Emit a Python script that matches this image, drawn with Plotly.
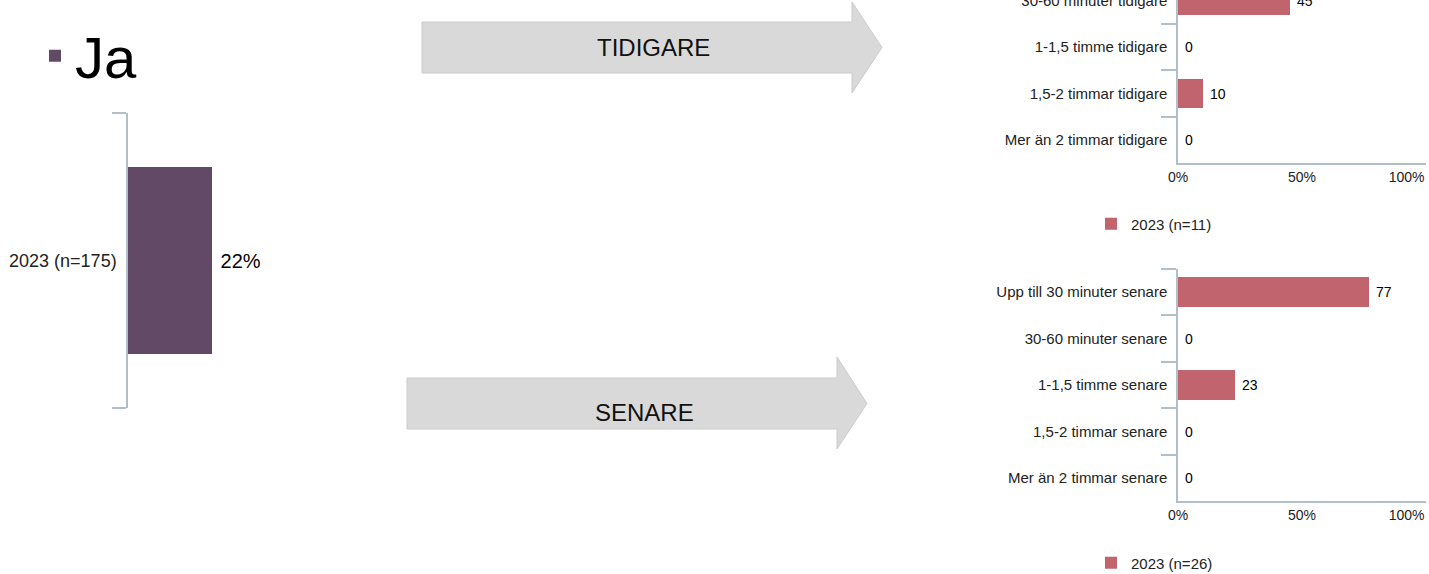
import plotly.graph_objects as go

W, H = 1429, 574

# ---- data ----
ja_category = ["2023 (n=175)"]
ja_values = [22]

tidigare_categories = [
    "Upp till 30 minuter tidigare",
    "30-60 minuter tidigare",
    "1-1,5 timme tidigare",
    "1,5-2 timmar tidigare",
    "Mer än 2 timmar tidigare",
]
tidigare_values = [45, 45, 0, 10, 0]

senare_categories = [
    "Upp till 30 minuter senare",
    "30-60 minuter senare",
    "1-1,5 timme senare",
    "1,5-2 timmar senare",
    "Mer än 2 timmar senare",
]
senare_values = [77, 0, 23, 0, 0]

x_tickvals = [0, 50, 100]
x_ticktext = ["0%", "50%", "100%"]

# ---- styles ----
FONT = "Liberation Sans, Arial, sans-serif"
PURPLE = "#624966"
RED = "#C1646E"
AXIS = "#B3BECB"
ARROW = "#D9D9D9"
NB = "\u00a0"


def px_x(p):
    return p / W


def px_y(p):
    return 1 - p / H


fig = go.Figure()

fig.add_trace(go.Bar(
    x=ja_values, y=ja_category, orientation="h", name="Ja",
    marker=dict(color=PURPLE, line=dict(width=0)), width=0.634,
    text=[f"{NB}{v}%" for v in ja_values], textposition="outside",
    textfont=dict(size=20, color="#000000", family=FONT),
    xaxis="x", yaxis="y", legend="legend", hoverinfo="skip",
))

fig.add_trace(go.Bar(
    x=tidigare_values, y=tidigare_categories, orientation="h", name="2023 (n=11)",
    marker=dict(color=RED, line=dict(width=0)), width=0.635,
    text=[f"{NB}{v}" for v in tidigare_values], textposition="outside",
    textfont=dict(size=14, color="#000000", family=FONT),
    xaxis="x2", yaxis="y2", legend="legend2", hoverinfo="skip",
))

fig.add_trace(go.Bar(
    x=senare_values, y=senare_categories, orientation="h", name="2023 (n=26)",
    marker=dict(color=RED, line=dict(width=0)), width=0.635,
    text=[f"{NB}{v}" for v in senare_values], textposition="outside",
    textfont=dict(size=14, color="#000000", family=FONT),
    xaxis="x3", yaxis="y3", legend="legend3", hoverinfo="skip",
))

cat_axis_common = dict(
    type="category", showline=True, linecolor=AXIS, linewidth=1.5,
    ticks="outside", tickson="boundaries", tickcolor=AXIS, tickwidth=1.5,
    showgrid=False, zeroline=False, ticklabelstandoff=6, automargin=False,
)
# last tick label kept inside the figure, as in the reference
x_ticktext_disp = x_ticktext[:-1] + [x_ticktext[-1] + NB * 10]
val_axis_common = dict(
    range=[0, 100], showgrid=False, zeroline=False,
    tickvals=x_tickvals, ticktext=x_ticktext_disp, ticklabeloverflow="allow",
    showline=True, linecolor=AXIS, linewidth=1.5, ticks="",
    tickfont=dict(size=14, color="#222222", family=FONT), automargin=False,
)

fig.update_layout(
    width=W, height=H,
    margin=dict(l=0, r=0, t=0, b=0, pad=0, autoexpand=False),
    paper_bgcolor="white", plot_bgcolor="white",
    font=dict(family=FONT, color="#222222"),
    bargap=0,
    xaxis=dict(domain=[px_x(128), px_x(510)], range=[0, 100], visible=False, anchor="y"),
    yaxis=dict(domain=[px_y(408), px_y(113)], range=[-0.5, 0.5], ticklen=14,
               tickfont=dict(size=18, color="#222222", family=FONT), anchor="x",
               **cat_axis_common),
    xaxis2=dict(domain=[px_x(1178), px_x(1426)], anchor="y2", **val_axis_common),
    yaxis2=dict(domain=[px_y(163), 1.0], range=[4.5, 0.986], ticklen=15,
                categoryorder="array", categoryarray=tidigare_categories,
                tickfont=dict(size=15, color="#222222", family=FONT), anchor="x2",
                **cat_axis_common),
    xaxis3=dict(domain=[px_x(1178), px_x(1426)], anchor="y3", **val_axis_common),
    yaxis3=dict(domain=[px_y(501), px_y(269)], range=[4.5, -0.5], ticklen=15,
                categoryorder="array", categoryarray=senare_categories,
                tickfont=dict(size=15, color="#222222", family=FONT), anchor="x3",
                **cat_axis_common),
    legend=dict(x=px_x(35), y=px_y(56), xanchor="left", yanchor="middle",
                font=dict(size=58, color="#000000", family=FONT), valign="bottom",
                bgcolor="rgba(0,0,0,0)", itemwidth=30),
    legend2=dict(x=px_x(1091), y=px_y(224), xanchor="left", yanchor="middle",
                 font=dict(size=15, color="#222222", family=FONT),
                 bgcolor="rgba(0,0,0,0)", itemwidth=30),
    legend3=dict(x=px_x(1091), y=px_y(563), xanchor="left", yanchor="middle",
                 font=dict(size=15, color="#222222", family=FONT),
                 bgcolor="rgba(0,0,0,0)", itemwidth=30),
    showlegend=True,
)


def arrow_path(x0, x_neck, x_tip, y_top, y_bot, y_head_top, y_head_bot):
    ym = (y_top + y_bot) / 2
    pts = [(x0, y_top), (x_neck, y_top), (x_neck, y_head_top), (x_tip, ym),
           (x_neck, y_head_bot), (x_neck, y_bot), (x0, y_bot)]
    s = "M " + " L ".join(f"{px_x(a):.5f},{px_y(b):.5f}" for a, b in pts) + " Z"
    return s


fig.add_shape(type="path", xref="paper", yref="paper",
              path=arrow_path(422, 852, 882, 22, 73, 2, 93),
              fillcolor=ARROW, line=dict(color="#CCCCCC", width=1), layer="below")
fig.add_shape(type="path", xref="paper", yref="paper",
              path=arrow_path(407, 837, 867, 378, 429, 357, 449),
              fillcolor=ARROW, line=dict(color="#CCCCCC", width=1), layer="below")

fig.add_annotation(text="TIDIGARE", x=px_x(653), y=px_y(48), xref="paper", yref="paper",
                   xanchor="center", yanchor="middle",
                   showarrow=False, font=dict(size=24, color="#111111", family=FONT))
fig.add_annotation(text="SENARE", x=px_x(644), y=px_y(412), xref="paper", yref="paper",
                   xanchor="center", yanchor="middle",
                   showarrow=False, font=dict(size=24, color="#111111", family=FONT))

fig.write_html("out.html", config={"displayModeBar": False},
               post_script="document.body.style.margin='0';")
